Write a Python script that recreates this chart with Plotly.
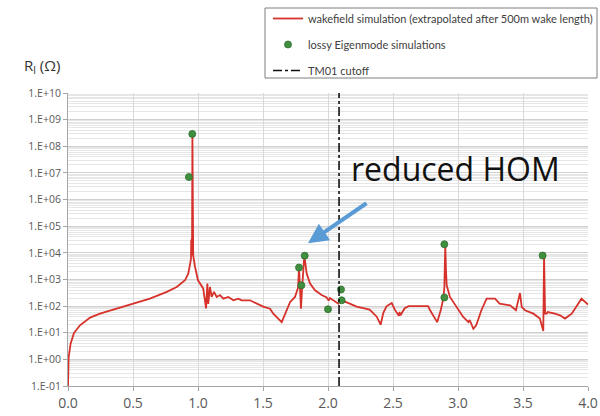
import plotly.graph_objects as go

# Longitudinal impedance from the wakefield run (frequency in GHz, R_l in Ohm)
freq_wake = [
    0.0, 0.003, 0.005, 0.02, 0.046, 0.092, 0.17, 0.246, 0.374, 0.503, 0.63, 0.76,
    0.836, 0.9, 0.925, 0.94, 0.946, 0.948, 0.950, 0.952, 0.954, 0.957, 0.960,
    0.963, 0.977, 1.0, 1.04, 1.062, 1.072, 1.079, 1.092, 1.105, 1.123, 1.144,
    1.169, 1.195, 1.233, 1.272, 1.31, 1.336, 1.40, 1.502, 1.554, 1.579, 1.644,
    1.708, 1.746, 1.770, 1.777, 1.784, 1.792, 1.800, 1.818, 1.836, 1.862, 1.9,
    1.951, 1.99, 2.005, 2.015, 2.04, 2.067, 2.08, 2.092, 2.14, 2.22, 2.32, 2.375,
    2.405, 2.425, 2.45, 2.49, 2.515, 2.545, 2.55, 2.558, 2.59, 2.62, 2.708, 2.77,
    2.785, 2.84, 2.867, 2.887, 2.895, 2.902, 2.908, 2.913, 2.938, 2.99, 3.04,
    3.08, 3.09, 3.118, 3.14, 3.18, 3.22, 3.285, 3.32, 3.40, 3.446, 3.477, 3.49,
    3.515, 3.58, 3.63, 3.656, 3.662, 3.670, 3.682, 3.69, 3.746, 3.785, 3.823,
    3.875, 3.95, 3.99, 4.0,
]
r_wake = [
    0.1, 0.5, 1.2, 3.9, 9.8, 19, 37, 52, 79, 123, 190, 340,
    520, 930, 1660, 4000, 6000, 30000, 8000, 35000, 12000, 2.9e8, 20000,
    8000, 3000, 930, 460, 83, 700, 120, 520, 220, 340, 220,
    260, 190, 220, 165, 190, 165, 165, 95, 80, 52, 25,
    140, 220, 500, 3000, 300, 80, 400, 8000, 1660, 700, 390,
    260, 210, 160, 200, 170, 140, 123, 165, 140, 95, 74, 40,
    20, 55, 98, 130, 72, 43, 60, 45, 83, 100, 98, 100,
    70, 25, 70, 190, 500, 19500, 2000, 600, 220, 93, 39,
    25, 30, 14, 19, 70, 190, 190, 123, 107, 70, 310, 93,
    70, 52, 34, 11.5, 7400, 52, 52, 60, 52, 45, 34,
    52, 190, 123, 115,
]

# Lossy eigenmode results
freq_eig = [0.93, 0.956, 1.777, 1.795, 1.821, 2.0, 2.10, 2.105, 2.895, 2.895, 3.651]
r_eig = [7e6, 2.9e8, 2800, 600, 7800, 76, 420, 165, 210, 21000, 7900]

# TM01 cutoff frequency
f_cutoff = 2.085
y_span = [0.1, 1e10]

x_ticks = [0.0, 0.5, 1.0, 1.5, 2.0, 2.5, 3.0, 3.5, 4.0]
y_exponents = list(range(-1, 11))
y_ticks = [10.0 ** e for e in y_exponents]
y_labels = ["1.E%s%02d" % ("+" if e >= 0 else "-", abs(e)) for e in y_exponents]

fig = go.Figure()
fig.add_trace(go.Scatter(
    x=freq_wake, y=r_wake, mode="lines",
    line=dict(color="#d6322b", width=1.8),
    name="wakefield simulation (extrapolated after 500m wake length)",
    legendgroup="a",
))
fig.add_trace(go.Scatter(
    x=freq_eig, y=r_eig, mode="markers",
    marker=dict(color="#3f8f3f", size=7, line=dict(color="#2d6e2d", width=0.8)),
    name="lossy Eigenmode simulations",
    legendgroup="b",
))
fig.add_trace(go.Scatter(
    x=[f_cutoff, f_cutoff], y=y_span, mode="lines",
    line=dict(color="#111111", width=1.6, dash="dashdot"),
    name="TM01 cutoff",
    legendgroup="c",
))

# legend frame
fig.add_shape(type="rect", xref="paper", yref="paper",
              x0=(265 - 68) / 520, x1=(597 - 68) / 520,
              y0=(386 - 78) / 293, y1=(386 - 8) / 293,
              line=dict(color="#7f7f7f", width=1), fillcolor="rgba(0,0,0,0)")

fig.add_annotation(
    xref="paper", yref="paper", x=(22 - 68) / 520, y=(386 - 66) / 293,
    xanchor="left", yanchor="middle", showarrow=False,
    text="R<sub>l</sub> (Ω)", font=dict(family="Open Sans", size=15, color="#333333"),
)
fig.add_annotation(
    x=2.98, y=7.15, xref="x", yref="y", showarrow=False,
    text="reduced HOM", font=dict(family="Open Sans", size=32, color="#111111"),
)
fig.add_annotation(
    x=1.846, y=4.36, xref="x", yref="y", ax=60, ay=-41,
    showarrow=True, arrowhead=2, arrowsize=1, arrowwidth=4,
    arrowcolor="#5b9bd5", text="",
)

fig.update_layout(
    width=600, height=416,
    margin=dict(l=68, r=12, t=93, b=30, autoexpand=False),
    paper_bgcolor="white", plot_bgcolor="white",
    font=dict(family="Open Sans", color="#595959"),
    showlegend=True,
    legend=dict(
        x=(268 - 68) / 520, y=(386 - 4) / 293, xanchor="left", yanchor="top",
        bgcolor="rgba(0,0,0,0)", borderwidth=0,
        font=dict(family="Lato", size=11, color="#404040"),
        traceorder="grouped", tracegroupgap=7,
    ),
    xaxis=dict(
        range=[0, 4], tickvals=x_ticks, ticktext=["%.1f" % v for v in x_ticks],
        showgrid=True, gridcolor="#d9d9d9", gridwidth=1,
        showline=True, linecolor="#a6a6a6", linewidth=1,
        ticks="outside", ticklen=4, tickcolor="#a6a6a6",
        tickfont=dict(size=14, color="#595959"), zeroline=False,
    ),
    yaxis=dict(
        type="log", range=[-1, 10], tickvals=y_ticks, ticktext=y_labels,
        showgrid=True, gridcolor="#d0d0d0", gridwidth=1,
        showline=True, linecolor="#a6a6a6", linewidth=1,
        ticks="outside", ticklen=4, tickcolor="#a6a6a6",
        tickfont=dict(size=10.5, color="#595959"), zeroline=False,
        minor=dict(dtick="D1", showgrid=True, gridcolor="#e6e6e6", gridwidth=1),
    ),
)

fig.write_html("out.html")
